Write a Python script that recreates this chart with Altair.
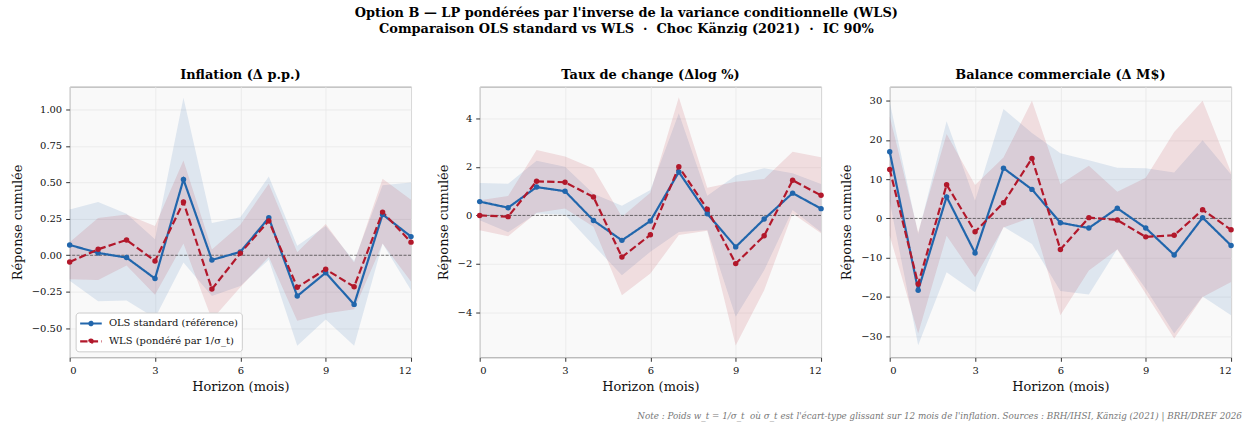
import altair as alt
import pandas as pd

horizons = list(range(13))
methods = ["OLS standard (référence)", "WLS (pondéré par 1/σ_t)"]
colors = ["#2166ac", "#b2182b"]

# Panel 1 : Inflation
infl_ols = [0.071, 0.016, -0.016, -0.16, 0.52, -0.032, 0.023, 0.257, -0.28, -0.12, -0.337, 0.28, 0.128]
infl_ols_lo = [-0.174, -0.316, -0.31, -0.43, -0.05, -0.28, -0.21, -0.03, -0.62, -0.44, -0.62, 0.08, -0.24]
infl_ols_hi = [0.314, 0.365, 0.284, 0.11, 1.08, 0.222, 0.26, 0.54, 0.066, 0.2, -0.04, 0.48, 0.50]
infl_wls = [-0.046, 0.041, 0.105, -0.039, 0.365, -0.232, 0.014, 0.236, -0.22, -0.096, -0.216, 0.296, 0.09]
infl_wls_lo = [-0.165, -0.17, -0.07, -0.27, 0.08, -0.44, -0.22, -0.01, -0.45, -0.40, -0.37, 0.08, -0.18]
infl_wls_hi = [0.09, 0.255, 0.28, 0.2, 0.65, 0.04, 0.21, 0.49, 0.02, 0.215, -0.05, 0.525, 0.38]

# Panel 2 : Taux de change
fx_ols = [0.57, 0.32, 1.17, 1.0, -0.21, -1.03, -0.23, 1.79, 0.07, -1.30, -0.15, 0.92, 0.28]
fx_ols_lo = [-0.2, -0.70, 0.08, 0.03, -1.23, -2.47, -1.5, -0.68, -0.6, -4.19, -2.26, 0.22, -0.68]
fx_ols_hi = [1.34, 1.31, 2.26, 2.01, 0.9, 0.4, 1.05, 4.22, 0.81, 1.65, 1.95, 1.74, 1.3]
fx_wls = [0.0, -0.05, 1.41, 1.37, 0.76, -1.72, -0.80, 2.01, 0.26, -1.99, -0.84, 1.45, 0.83]
fx_wls_lo = [-0.61, -0.86, 0.11, 0.29, -0.47, -3.3, -2.4, -0.81, -0.63, -5.37, -3.09, 0.08, -0.74]
fx_wls_hi = [0.63, 0.8, 2.7, 2.43, 1.94, -0.05, 0.94, 4.88, 1.14, 1.39, 1.5, 2.63, 2.4]

# Panel 3 : Balance commerciale
tb_ols = [17.0, -18.3, 5.5, -8.8, 12.8, 7.4, -1.1, -2.45, 2.6, -2.45, -9.3, 0.2, -6.9]
tb_ols_lo = [4.3, -32.3, -13.7, -18.8, -2.1, -6.5, -18.5, -19.4, -7.8, -17.9, -29.3, -19.9, -24.7]
tb_ols_hi = [29.7, -4.0, 24.8, 4.5, 27.9, 21.8, 16.6, 14.8, 12.9, 12.8, 11.7, 19.9, 11.2]
tb_wls = [12.5, -16.7, 8.6, -3.4, 4.0, 15.3, -7.9, 0.2, -0.4, -4.7, -4.3, 2.2, -2.9]
tb_wls_lo = [-4.4, -29.3, -4.4, -15.0, -2.3, 0.3, -24.7, -13.3, -7.9, -19.2, -30.6, -20.0, -16.2]
tb_wls_hi = [26.0, -3.5, 21.5, 8.5, 15.5, 30.0, 8.7, 13.4, 6.8, 10.4, 22.0, 30.0, 11.7]

FONT = "DejaVu Serif"
MINUS = "replace(datum.label, '-', '\u2212')"
DASHES = [[1, 0], [7.4, 3.2]]
LEGEND_SYMBOL = "M-1.67,0H1.67M-0.26,0A0.26,0.26,0,1,1,0.26,0A0.26,0.26,0,1,1,-0.26,0Z"


def make_df(ols, ols_lo, ols_hi, wls, wls_lo, wls_hi):
    rows = []
    for h in horizons:
        rows.append({"h": h, "method": methods[0], "val": ols[h], "lo": ols_lo[h], "hi": ols_hi[h]})
    for h in horizons:
        rows.append({"h": h, "method": methods[1], "val": wls[h], "lo": wls_lo[h], "hi": wls_hi[h]})
    return pd.DataFrame(rows)


def panel(df, title, ydom, yticks, fmt, legend):
    x = alt.X("h:Q", scale=alt.Scale(domain=[0, 12], nice=False, zero=False),
              axis=alt.Axis(values=[0, 3, 6, 9, 12], title="Horizon (mois)", format="d",
                            labelFont=FONT, titleFont=FONT))
    yax = alt.Axis(values=yticks, format=fmt, title="Réponse cumulée", labelExpr=MINUS,
                   labelFont=FONT, titleFont=FONT)
    ysc = alt.Scale(domain=ydom, nice=False, zero=False)
    base = alt.Chart(df)
    bands = []
    for m, c in zip(methods, colors):
        bands.append(
            base.transform_filter(alt.datum.method == m).mark_area(color=c, opacity=0.12).encode(
                x=x, y=alt.Y("lo:Q", scale=ysc, axis=yax), y2="hi:Q",
            )
        )
    zero = alt.Chart(pd.DataFrame({"z": [0]})).mark_rule(
        color="#333", strokeDash=[3, 1.5], strokeWidth=0.9, opacity=0.75
    ).encode(y=alt.Y("z:Q", scale=ysc, axis=yax))
    if legend:
        leg = alt.Legend(title=None, orient="bottom-left", offset=6, symbolType=LEGEND_SYMBOL,
                         labelFont=FONT, symbolOffset=4.4, labelOffset=10)
    else:
        leg = None
    cenc = alt.Color("method:N", scale=alt.Scale(domain=methods, range=colors), legend=leg)
    denc = alt.StrokeDash("method:N", scale=alt.Scale(domain=methods, range=DASHES), legend=leg)
    line = base.mark_line(strokeWidth=2.2).encode(
        x=x, y=alt.Y("val:Q", scale=ysc, axis=yax), color=cenc, strokeDash=denc,
    )
    pts = base.mark_circle(size=30, opacity=1).encode(
        x=x, y=alt.Y("val:Q", scale=ysc, axis=yax), color=cenc,
    )
    return alt.layer(*bands, zero, line, pts).properties(
        width=343, height=272,
        title=alt.TitleParams(title, font=FONT, fontSize=13, fontWeight="bold", offset=5),
    )


p1 = panel(make_df(infl_ols, infl_ols_lo, infl_ols_hi, infl_wls, infl_wls_lo, infl_wls_hi),
           "Inflation (Δ p.p.)", [-0.70, 1.157], [-0.5, -0.25, 0, 0.25, 0.5, 0.75, 1.0], ".2f", True)
p2 = panel(make_df(fx_ols, fx_ols_lo, fx_ols_hi, fx_wls, fx_wls_lo, fx_wls_hi),
           "Taux de change (Δlog %)", [-5.86, 5.32], [-4, -2, 0, 2, 4], "d", False)
p3 = panel(make_df(tb_ols, tb_ols_lo, tb_ols_hi, tb_wls, tb_wls_lo, tb_wls_hi),
           "Balance commerciale (Δ M$)", [-35.4, 33.6], [-30, -20, -10, 0, 10, 20, 30], "d", False)

note = ("Note : Poids w_t = 1/σ_t\u00a0 où σ_t est l'écart-type glissant sur 12 mois de l'inflation. "
        "Sources : BRH/IHSI, Känzig (2021) | BRH/DREF 2026")

row = alt.hconcat(p1, p2, p3, spacing=69, bounds="flush").resolve_scale(
    color="independent", strokeDash="independent", y="independent"
).resolve_legend(color="independent", strokeDash="independent").properties(
    title=alt.TitleParams(note, orient="bottom", anchor="end", font=FONT, fontSize=8.8,
                          fontStyle="italic", fontWeight="normal", color="#777", offset=18, dx=6)
)

chart = alt.vconcat(row).properties(
    title=alt.TitleParams(
        ["Option B — LP pondérées par l'inverse de la variance conditionnelle (WLS)",
         "Comparaison OLS standard vs WLS \u00a0·\u00a0 Choc Känzig (2021) \u00a0·\u00a0 IC 90%"],
        anchor="middle", font=FONT, fontSize=13, fontWeight="bold", lineHeight=16, offset=32),
    padding={"left": 10, "top": 6, "right": 5, "bottom": 5},
).configure(font=FONT).configure_view(
    fill="#f9f9f9", stroke="#a0a0a0", strokeWidth=1
).configure_axis(
    labelFont=FONT, titleFont=FONT, labelFontSize=10, titleFontSize=13, titleFontWeight="normal",
    labelColor="#111", titleColor="#111", gridColor="#e8e8e8", gridWidth=0.8,
    tickColor="#333", tickSize=4, domain=False, labelPadding=4,
).configure_axisY(titlePadding=7).configure_axisX(titlePadding=5).configure_legend(
    labelFont=FONT, labelFontSize=10, fillColor="white", strokeColor="#cccccc",
    cornerRadius=3, padding=3, symbolStrokeWidth=2.2, symbolSize=169, rowPadding=3,
    labelColor="#111",
).configure_title(font=FONT)

chart.save("out.html", embed_options={"renderer": "svg", "actions": False})
